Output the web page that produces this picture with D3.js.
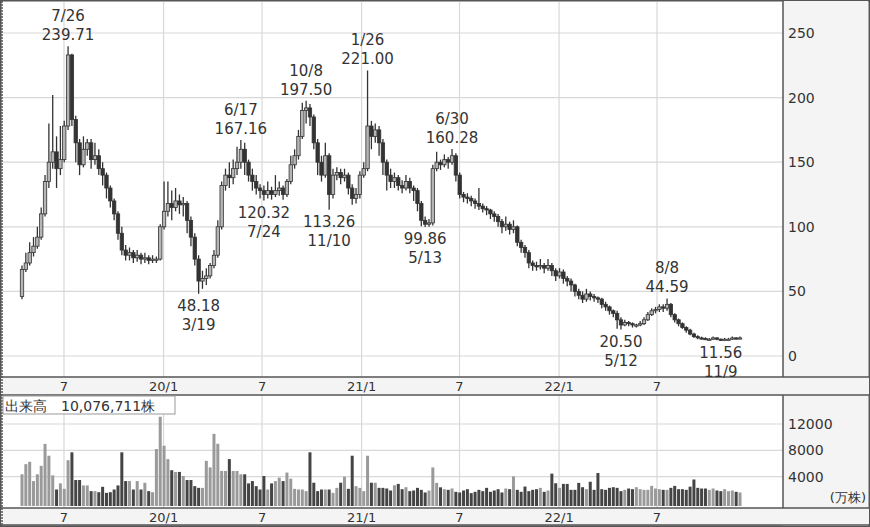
<!DOCTYPE html>
<html>
<head>
<meta charset="utf-8">
<script src="https://cdn.jsdelivr.net/npm/d3@7"></script>
<style>
  body { margin: 0; background: #fff; }
  text { font-family: "DejaVu Sans", Verdana, sans-serif; fill: #333; }
</style>
</head>
<body>
<div class="canvas"></div>
<script>
// weekly bars, 2019/4 .. 2022/11
const opens = [46,67,72,80,85,92,110,135,150,158,145,152,178,233,183,165,148,160,165,152,
  155,145,140,130,120,110,95,82,78,80,76,78,75,76,74,75,75,100,112,118,
  115,120,117,118,105,92,75,58,60,62,70,78,100,132,140,138,145,150,160,150,
  140,135,130,128,125,128,125,128,130,125,135,148,155,170,190,192,185,165,150,140,
  155,125,140,142,138,140,130,122,125,140,145,178,170,175,165,150,140,135,138,132,
  130,135,130,128,118,105,102,103,145,150,148,152,150,155,140,125,123,122,120,118,
  116,114,113,110,108,104,100,102,98,100,88,84,80,72,70,69,70,68,70,66,
  62,65,60,58,55,50,47,44,48,46,45,44,40,38,35,33,28,24,26,25,
  24,24,25,28,32,35,36,38,37,40,32,28,25,22,20,17,15,14,13.5,13,
  13,14,13,12.5,13,13,14,13.5];
const closes = [67,72,80,85,92,110,135,150,158,145,152,178,233,183,165,148,160,165,152,155,
  145,140,130,120,110,95,82,78,80,76,78,75,76,74,75,75,100,112,118,115,
  120,117,118,105,92,75,58,60,62,70,78,100,132,140,138,145,150,160,150,140,
  135,130,128,125,128,125,128,130,125,135,148,155,170,190,192,185,165,150,140,155,
  125,140,142,138,140,130,122,125,140,145,178,170,175,165,150,140,135,138,132,130,
  135,130,128,118,105,102,103,145,150,148,152,150,155,140,125,123,122,120,118,116,
  114,113,110,108,104,100,102,98,100,88,84,80,72,70,69,70,68,70,66,62,
  65,60,58,55,50,47,44,48,46,45,44,40,38,35,33,28,24,26,25,24,
  24,25,28,32,35,36,38,37,40,32,28,25,22,20,17,15,14,13.5,13,13,
  14,13,12.5,13,13,14,13.5,14];
const highs = [70,80,88,92,100,115,140,180,202,170,178,182,239.71,234,186,168,170,168,168,165,
  160,150,142,132,122,112,100,86,84,82,82,80,80,78,78,77,102,135,135,128,
  130,125,123,120,108,95,78,66,68,72,82,105,135,145,150,152,162,167.16,165,152,
  145,140,133,132,135,131,140,135,132,137,155,160,175,196,197.5,195,187,168,155,165,
  157,145,146,145,145,142,133,130,143,150,221,182,180,178,168,152,145,142,140,136,
  140,138,132,130,120,108,106,148,158,152,156,154,160.28,157,142,127,126,124,122,130,
  118,116,114,112,110,106,108,104,105,101,90,86,82,74,73,75,72,75,72,68,
  68,67,62,60,56,52,50,52,50,48,46,45,42,39,36,35,30,28,27,26,
  25,27,30,34,37,38,40,40,44.59,41,33,29,26,23,21,18,16,15,14.5,14,
  15,14.5,13.5,14,14,15,14.5,15];
const lows = [44,65,70,77,83,90,108,130,145,130,140,150,175,178,150,140,146,155,145,148,
  140,132,122,115,105,90,78,74,74,72,73,71,72,71,72,72,74,98,108,105,
  112,110,108,95,85,70,48.18,52,55,60,68,76,98,128,130,133,140,145,140,135,
  128,125,122,120.32,122,121,123,124,121,123,133,145,152,168,180,178,160,140,135,138,
  113.26,122,136,133,135,125,117,118,122,138,143,160,165,155,140,128,130,130,128,126,
  128,126,120,112,100.5,99.86,100,101,143,144,146,145,148,135,122,119,118,116,114,113,
  111,109,106,104,100,95,97,94,95,85,80,76,68,66,66,67,64,66,62,58,
  60,56,54,50,46,44,41,42,43,42,41,37,35,32,30,21,20.5,23,23,22,
  22,23,24,27,31,33,34,34,35,30,26,23,21,18,16,14,13,12.8,12.5,12.3,
  12.6,12.2,11.56,12,12.4,12.6,12.8,13];
const volumes = [4360,5900,6260,3330,4360,5640,8980,7180,4200,2050,2980,2150,6500,7700,3490,3490,2670,2670,1800,1800,
  1640,2460,1540,1640,2050,2670,7700,3330,3330,2050,3330,2050,3080,1800,1640,8200,13100,8700,6670,4980,
  4720,4720,4100,3490,3490,2560,2300,2300,6400,5400,10500,9000,4870,4870,6670,4870,4870,4360,4360,2980,
  3330,2560,2050,4100,2050,2980,3330,3850,3330,4620,3690,2150,2050,2050,1800,7700,3080,1800,2050,2050,
  2050,1540,2300,3080,4000,2150,7180,2560,2300,1800,7180,3080,3080,2300,2300,2200,1900,2700,2900,2100,
  2400,1800,1900,2300,2000,1600,1900,5400,3060,2380,2100,2000,2200,1700,1600,1900,2100,1500,1700,2000,
  1800,2300,1700,1900,2100,1600,2200,2100,4040,2000,1700,2500,1800,2000,2100,2300,1700,1900,4460,3000,
  2300,2900,2900,2000,2000,3060,2400,2100,3230,2000,4550,2100,2000,2300,2400,2300,1800,2000,2200,2100,
  2400,2100,2000,2000,2600,2200,2100,2000,2000,2300,2600,2100,2100,2000,2480,3570,2300,2200,2200,2000,
  2200,1900,1800,2100,1800,1900,1700,1600];
const priceTicks = [0, 50, 100, 150, 200, 250];
const volTicks = [4000, 8000, 12000];
const dateTicks = ["2019-07-01", "2020-01-01", "2020-07-01", "2021-01-01", "2021-07-01", "2022-01-01", "2022-07-01"];
const dateLabels = ["7", "20/1", "7", "21/1", "7", "22/1", "7"];
// annotations: index, high/low, date, value
const annIdx = [12, 46, 57, 63, 74, 80, 90, 105, 112, 156, 168, 182];
const annType = ["h", "l", "h", "l", "h", "l", "h", "l", "h", "l", "h", "l"];
const annDate = ["7/26", "3/19", "6/17", "7/24", "10/8", "11/10", "1/26", "5/13", "6/30", "5/12", "8/8", "11/9"];
const annVal = ["239.71", "48.18", "167.16", "120.32", "197.50", "113.26", "221.00", "99.86", "160.28", "20.50", "44.59", "11.56"];

const W = 870, H = 527;
const plotL = 3, plotR = 783;
const svg = d3.select(".canvas").append("svg").attr("width", W).attr("height", H);

const x = d3.scaleLinear().domain([0, closes.length - 1]).range([22, 740]);
const xt = d3.scaleTime()
  .domain([new Date(2019, 6, 1), new Date(2022, 6, 1)])
  .range([64, 657]);
const y = d3.scaleLinear().domain([0, 250]).range([356, 33]);
const yv = d3.scaleLinear().domain([0, 12000]).range([503, 424]);

// panels
svg.append("rect").attr("x", 0.5).attr("y", 0.5).attr("width", W - 1).attr("height", H - 1)
  .attr("fill", "#fff").attr("stroke", "#555").attr("stroke-width", 2);
svg.append("rect").attr("x", plotR).attr("y", 1).attr("width", W - plotR - 2).attr("height", H - 2).attr("fill", "#f4f4f4");
[[377, 395], [508, 525]].forEach(([a, b]) => {
  svg.append("rect").attr("x", 1).attr("y", a).attr("width", W - 2).attr("height", b - a).attr("fill", "#f4f4f4");
});

// grid
const grid = svg.append("g").attr("stroke", "#d8d8d8").attr("stroke-width", 1.2);
priceTicks.forEach(t => grid.append("line").attr("x1", plotL).attr("x2", plotR).attr("y1", y(t)).attr("y2", y(t)));
volTicks.forEach(t => grid.append("line").attr("x1", plotL).attr("x2", plotR).attr("y1", yv(t)).attr("y2", yv(t)));
dateTicks.forEach(d => {
  const xx = xt(new Date(d));
  grid.append("line").attr("x1", xx).attr("x2", xx).attr("y1", 2).attr("y2", 377);
  grid.append("line").attr("x1", xx).attr("x2", xx).attr("y1", 395).attr("y2", 508);
});

// panel frame lines
const frame = svg.append("g").attr("stroke", "#555").attr("stroke-width", 1.5);
frame.append("line").attr("x1", plotR).attr("x2", plotR).attr("y1", 1).attr("y2", 377);
frame.append("line").attr("x1", plotR).attr("x2", plotR).attr("y1", 395).attr("y2", 508);
[377, 395, 508, 525].forEach(yy => frame.append("line").attr("x1", 1).attr("x2", W - 1).attr("y1", yy).attr("y2", yy));
frame.append("line").attr("x1", 2).attr("x2", 2).attr("y1", 1).attr("y2", 526).attr("stroke-dasharray", "2,1");

// date labels
dateLabels.forEach((l, k) => {
  const xx = xt(new Date(dateTicks[k]));
  [391, 522].forEach(yy => svg.append("text").attr("x", xx).attr("y", yy)
    .attr("text-anchor", "middle").attr("font-size", 13).text(l));
});

// price axis labels
priceTicks.forEach(t => svg.append("text").attr("x", 788).attr("y", y(t) + 5)
  .attr("font-size", 14).text(t));
volTicks.forEach(t => svg.append("text").attr("x", 788).attr("y", yv(t) + 5)
  .attr("font-size", 14).text(t));
svg.append("text").attr("x", 866).attr("y", 502).attr("text-anchor", "end").attr("font-size", 13).text("(万株)");

// volume bars
svg.append("g").selectAll("rect").data(volumes).join("rect")
  .attr("x", (d, i) => x(i) - 1.5)
  .attr("width", 3)
  .attr("y", d => yv(d))
  .attr("height", d => yv(0) - yv(d) + 3)
  .attr("fill", (d, i) => closes[i] >= opens[i] ? "#9a9a9a" : "#444");

// candles
const candles = svg.append("g").selectAll("g").data(closes).join("g");
candles.append("line")
  .attr("x1", (d, i) => x(i)).attr("x2", (d, i) => x(i))
  .attr("y1", (d, i) => y(highs[i])).attr("y2", (d, i) => y(lows[i]))
  .attr("stroke", "#333").attr("stroke-width", 1.3);
candles.append("rect")
  .attr("x", (d, i) => x(i) - 1.7)
  .attr("width", 3.4)
  .attr("y", (d, i) => y(Math.max(d, opens[i])))
  .attr("height", (d, i) => Math.max(1.2, Math.abs(y(d) - y(opens[i]))))
  .attr("fill", (d, i) => d >= opens[i] ? "#b5b5b5" : "#333")
  .attr("stroke", "#333").attr("stroke-width", 0.8);

// annotations
const ann = svg.append("g").attr("font-size", 15).attr("text-anchor", "middle");
annIdx.forEach((i, k) => {
  const xx = x(i);
  if (annType[k] === "h") {
    const yy = y(highs[i]);
    ann.append("text").attr("x", xx).attr("y", yy - 25).text(annDate[k]);
    ann.append("text").attr("x", xx).attr("y", yy - 6).text(annVal[k]);
  } else {
    const yy = y(lows[i]);
    ann.append("text").attr("x", xx).attr("y", yy + 17).text(annVal[k]);
    ann.append("text").attr("x", xx).attr("y", yy + 36).text(annDate[k]);
  }
});

// volume title box
svg.append("rect").attr("x", 3).attr("y", 396).attr("width", 172).attr("height", 18)
  .attr("fill", "#fff").attr("stroke", "#999");
svg.append("text").attr("x", 5).attr("y", 411).attr("font-size", 14)
  .attr("font-family", "'Noto Sans CJK JP', sans-serif").text("出来高　10,076,711株");
</script>
</body>
</html>
